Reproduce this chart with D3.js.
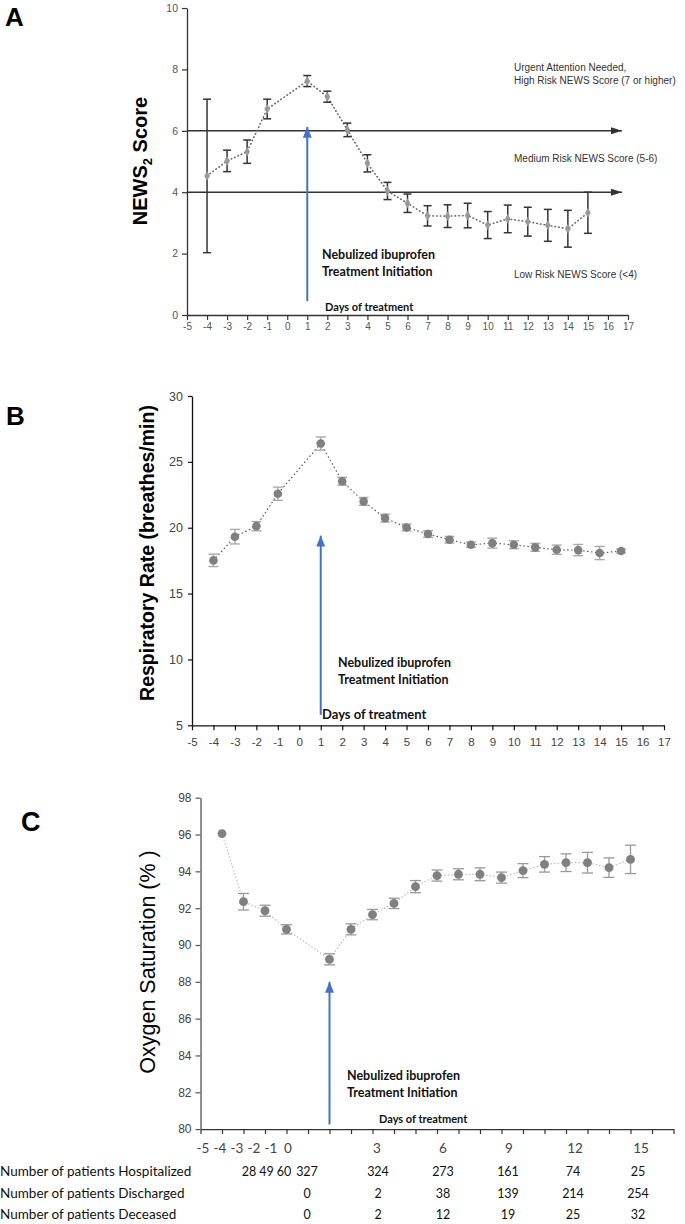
<!DOCTYPE html>
<html><head><meta charset="utf-8">
<script src="https://cdn.jsdelivr.net/npm/d3@7"></script>
<style>
body{margin:0;background:#fff;}
svg{display:block;}
</style></head>
<body>
<svg id="chart" width="685" height="1224"></svg>
<script>
// ---------------- DATA ----------------
const days = [-4,-3,-2,-1,1,2,3,4,5,6,7,8,9,10,11,12,13,14,15];
const xTicks = d3.range(-5,18);

// Panel A: NEWS2 score
const newsMean = [4.53,5.02,5.32,6.71,7.62,7.11,6.03,4.94,4.04,3.64,3.23,3.22,3.24,2.93,3.13,3.04,2.92,2.81,3.33];
const newsErr  = [2.5,0.35,0.38,0.32,0.18,0.18,0.22,0.28,0.28,0.3,0.33,0.37,0.4,0.44,0.45,0.47,0.52,0.6,0.67];
const newsTicks = [0,2,4,6,8,10];
const newsThresholds = [4,6];
const riskLabels = [
  {lines:["Urgent Attention Needed,","High Risk NEWS Score (7 or higher)"], y:7.95},
  {lines:["Medium Risk NEWS Score (5-6)"], y:5.0},
  {lines:["Low Risk NEWS Score (<4)"], y:1.2}
];

// Panel B: respiratory rate
const rrMean = [17.52,19.32,20.12,22.58,26.39,23.53,22.0,20.73,20.02,19.52,19.09,18.71,18.83,18.71,18.51,18.33,18.3,18.08,18.23];
const rrErr  = [0.47,0.55,0.35,0.5,0.5,0.3,0.3,0.3,0.25,0.25,0.25,0.2,0.38,0.3,0.3,0.35,0.43,0.5,0.15];
const rrTicks = [5,10,15,20,25,30];

// Panel C: oxygen saturation
const spo2Mean = [96.05,92.35,91.86,90.85,89.22,90.85,91.65,92.26,93.17,93.77,93.84,93.84,93.66,94.04,94.38,94.47,94.47,94.2,94.65];
const spo2Err  = [0,0.45,0.3,0.25,0.3,0.3,0.28,0.28,0.33,0.3,0.3,0.35,0.3,0.38,0.42,0.48,0.56,0.53,0.77];
const spo2Ticks = [80,82,84,86,88,90,92,94,96,98];

// Treatment start arrow (day, from value, to value) per panel
const treatDay = 1;
const arrowA = [0.45, 6.13];
const arrowB = [5.8, 19.4];
const arrowC = [80.25, 88.0];

// Patient table under panel C
const tableCols = [-5,-4,-3,-2,-1,0,3,6,9,12,15];
const rowNames = ["Number of patients Hospitalized","Number of patients Discharged","Number of patients Deceased"];
const hospitalized = [null,null,28,49,60,327,324,273,161,74,25];
const discharged   = [null,null,null,null,null,0,2,38,139,214,254];
const deceased     = [null,null,null,null,null,0,2,12,19,25,32];

// ---------------- DRAW ----------------
const svg = d3.select("#chart");
const defs = svg.append("defs");
function arrowMarker(id, color, len, wid){
  defs.append("marker").attr("id",id)
    .attr("markerUnits","userSpaceOnUse")
    .attr("viewBox",`0 0 ${len} ${wid}`)
    .attr("refX",len).attr("refY",wid/2)
    .attr("markerWidth",len).attr("markerHeight",wid)
    .attr("orient","auto")
    .append("path").attr("d",`M0,0L${len},${wid/2}L0,${wid}Z`).attr("fill",color);
}
arrowMarker("blueHead","#4472C4",11,9);
arrowMarker("blackHead","#333",11,7);

const ARIAL = "Liberation Sans, Arial, sans-serif";
const CAL = "Lato, 'Open Sans', sans-serif";
const plain = d => String(d);

function panelLetter(t,x,y,size){
  svg.append("text").attr("x",x).attr("y",y).text(t)
    .attr("font-family",ARIAL).attr("font-weight","bold").attr("font-size",size).attr("fill","#000");
}
function styleAxis(g, color, fsize, fcolor){
  g.select(".domain").attr("stroke",color).attr("stroke-width",1.3);
  g.selectAll(".tick line").attr("stroke",color).attr("stroke-width",1.2);
  g.selectAll(".tick text").attr("font-family",ARIAL).attr("font-size",fsize).attr("fill",fcolor);
}
function treatmentNotes(x, yNeb, xDays, yDays, sizeDays){
  const t = svg.append("text").attr("font-family",CAL).attr("font-weight","bold")
    .attr("font-size",12.5).attr("fill","#111");
  t.append("tspan").attr("x",x).attr("y",yNeb).text("Nebulized ibuprofen");
  t.append("tspan").attr("x",x).attr("y",yNeb+17).text("Treatment Initiation");
  svg.append("text").attr("x",xDays).attr("y",yDays).text("Days of treatment")
    .attr("font-family",CAL).attr("font-weight","bold").attr("font-size",sizeDays).attr("fill","#111");
}
function blueArrow(x, y, arr){
  svg.append("line").attr("x1",x(treatDay)).attr("x2",x(treatDay))
    .attr("y1",y(arr[0])).attr("y2",y(arr[1]))
    .attr("stroke","#4472C4").attr("stroke-width",2).attr("marker-end","url(#blueHead)");
}
function series(x, y, mean, err, opt){
  const g = svg.append("g");
  g.append("path").datum(days.map((d,i)=>[d,mean[i]]))
    .attr("d", d3.line().x(d=>x(d[0])).y(d=>y(d[1])))
    .attr("fill","none").attr("stroke",opt.lineColor).attr("stroke-width",opt.lineWidth)
    .attr("stroke-dasharray",opt.dash).attr("stroke-linecap","round");
  const eb = g.selectAll("g.eb").data(days.map((d,i)=>({d,m:mean[i],e:err[i]})).filter(o=>o.e>0))
    .join("g").attr("class","eb");
  eb.append("line").attr("x1",o=>x(o.d)).attr("x2",o=>x(o.d))
    .attr("y1",o=>y(o.m-o.e)).attr("y2",o=>y(o.m+o.e));
  eb.append("line").attr("x1",o=>x(o.d)-opt.cap).attr("x2",o=>x(o.d)+opt.cap)
    .attr("y1",o=>y(o.m+o.e)).attr("y2",o=>y(o.m+o.e));
  eb.append("line").attr("x1",o=>x(o.d)-opt.cap).attr("x2",o=>x(o.d)+opt.cap)
    .attr("y1",o=>y(o.m-o.e)).attr("y2",o=>y(o.m-o.e));
  eb.selectAll("line").attr("stroke",opt.errColor).attr("stroke-width",opt.errWidth);
  g.selectAll("path.pt").data(days.map((d,i)=>[d,mean[i]])).join("path").attr("class","pt")
    .attr("transform",d=>`translate(${x(d[0])},${y(d[1])})`)
    .attr("d", d3.symbol().type(opt.symbol).size(opt.size)())
    .attr("fill",opt.markColor);
}

// ---------- Panel A ----------
const xA = d3.scaleLinear().domain([-5,17]).range([187,628]);
const yA = d3.scaleLinear().domain([0,10]).range([315,8]);
panelLetter("A",5,26,26);
styleAxis(svg.append("g").attr("transform","translate(0,315)")
  .call(d3.axisBottom(xA).tickValues(xTicks).tickFormat(plain).tickSize(5).tickPadding(3).tickSizeOuter(0)), "#333", 10, "#555");
styleAxis(svg.append("g").attr("transform","translate(187,0)")
  .call(d3.axisLeft(yA).tickValues(newsTicks).tickFormat(plain).tickSize(5).tickPadding(4).tickSizeOuter(0)), "#333", 10.5, "#555");
svg.selectAll("line.thr").data(newsThresholds).join("line").attr("class","thr")
  .attr("x1",xA(-5)).attr("x2",xA(16.7)).attr("y1",d=>yA(d)).attr("y2",d=>yA(d))
  .attr("stroke","#333").attr("stroke-width",1.5).attr("marker-end","url(#blackHead)");
riskLabels.forEach(r=>{
  const t = svg.append("text").attr("font-family",ARIAL).attr("font-size",10).attr("fill","#333");
  r.lines.forEach((l,i)=>t.append("tspan").attr("x",514).attr("y",yA(r.y)+i*13).text(l));
});
const tA = svg.append("text").attr("transform",`translate(147,161) rotate(-90)`).attr("text-anchor","middle")
  .attr("font-family",ARIAL).attr("font-weight","bold").attr("font-size",20).attr("fill","#000");
tA.append("tspan").text("NEWS");
tA.append("tspan").attr("font-size",13).attr("dy",5).text("2");
tA.append("tspan").attr("dy",-5).text(" Score");
series(xA, yA, newsMean, newsErr, {lineColor:"#666",lineWidth:1.6,dash:"0.5,3.2",errColor:"#333",errWidth:1.5,cap:4,
  symbol:d3.symbolDiamond,size:28,markColor:"#999"});
blueArrow(xA, yA, arrowA);
treatmentNotes(322,259,325,311,11);

// ---------- Panel B ----------
const xB = d3.scaleLinear().domain([-5,17]).range([192,664]);
const yB = d3.scaleLinear().domain([5,30]).range([725.3,396]);
panelLetter("B",6,425,26);
styleAxis(svg.append("g").attr("transform","translate(0,725.3)")
  .call(d3.axisBottom(xB).tickValues(xTicks).tickFormat(plain).tickSize(5).tickPadding(8).tickSizeOuter(0)), "#111", 11.5, "#444");
styleAxis(svg.append("g").attr("transform","translate(192,0)")
  .call(d3.axisLeft(yB).tickValues(rrTicks).tickFormat(plain).tickSize(4).tickPadding(5).tickSizeOuter(0)), "#111", 12.5, "#444");
svg.append("text").attr("transform",`translate(154,553) rotate(-90)`).attr("text-anchor","middle")
  .attr("font-family",ARIAL).attr("font-weight","bold").attr("font-size",19.5).attr("fill","#000")
  .text("Respiratory Rate (breathes/min)");
series(xB, yB, rrMean, rrErr, {lineColor:"#555",lineWidth:1.2,dash:"0.5,3.5",errColor:"#aaa",errWidth:1.4,cap:5,
  symbol:d3.symbolCircle,size:58,markColor:"#808080"});
blueArrow(xB, yB, arrowB);
treatmentNotes(338,667,322,719,13);

// ---------- Panel C ----------
const xC = d3.scaleLinear().domain([-5,17]).range([200.5,673.5]);
const yC = d3.scaleLinear().domain([80,98]).range([1129.1,797.7]);
panelLetter("C",21,831,27);
styleAxis(svg.append("g").attr("transform","translate(0,1129.1)")
  .call(d3.axisBottom(xC).tickValues(xTicks).tickSize(5).tickFormat("").tickSizeOuter(0)), "#333", 11, "#444");
styleAxis(svg.append("g").attr("transform","translate(200.5,0)")
  .call(d3.axisLeft(yC).tickValues(spo2Ticks).tickFormat(plain).tickSize(5).tickPadding(4).tickSizeOuter(0)), "#555", 12, "#444");
svg.append("text").attr("transform",`translate(155,962) rotate(-90)`).attr("text-anchor","middle")
  .attr("font-family",ARIAL).attr("font-size",21.5).attr("fill","#000")
  .text("Oxygen Saturation (% )");
series(xC, yC, spo2Mean, spo2Err, {lineColor:"#bbb",lineWidth:1.2,dash:"0.5,3",errColor:"#999",errWidth:1.3,cap:5.5,
  symbol:d3.symbolCircle,size:62,markColor:"#808080"});
blueArrow(xC, yC, arrowC);
treatmentNotes(347,1080,379,1123,11);

// ---------- Table ----------
const labX = d3.scaleLinear().domain([-5,0,3,15]).range([203,288,377,641]);
const numX = d3.scaleLinear().domain([-3,-1,0,3,15]).range([249,284,307,378,638]);
const tg = svg.append("g").attr("font-family",CAL).attr("font-size",13.5).attr("fill","#111");
tg.selectAll("text.cl").data(tableCols).join("text").attr("class","cl")
  .attr("x",d=>labX(d)).attr("y",1153).attr("text-anchor","middle").attr("fill","#444").text(plain);
const rowsY = [1176,1198,1219];
[hospitalized,discharged,deceased].forEach((row,ri)=>{
  tg.append("text").attr("x",0).attr("y",rowsY[ri]).text(rowNames[ri]);
  tg.selectAll(null).data(tableCols.map((c,i)=>({c,v:row[i]})).filter(o=>o.v!==null)).join("text")
    .attr("x",o=>numX(o.c)).attr("y",rowsY[ri]).attr("text-anchor","middle").attr("font-size",12.5).text(o=>o.v);
});
</script>
</body></html>
